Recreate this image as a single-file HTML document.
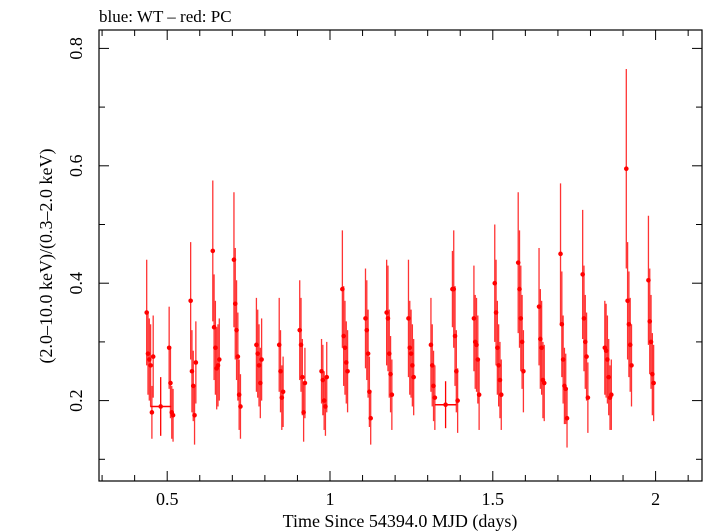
<!DOCTYPE html>
<html><head><meta charset="utf-8"><style>
body{margin:0;background:#fff}
svg{display:block;font-family:"Liberation Serif",serif}
</style></head><body>
<svg id="chart" width="705" height="532" viewBox="0 0 705 532">
<text x="99" y="22" font-size="17">blue: WT – red: PC</text>
<rect x="99" y="30" width="603" height="451" fill="none" stroke="#000" stroke-width="1.2"/>
<g id="axes"></g>
<g id="marks"></g>
<text x="400" y="527" font-size="18" text-anchor="middle">Time Since 54394.0 MJD (days)</text>
<text transform="translate(52,256) rotate(-90)" font-size="18" text-anchor="middle">(2.0–10.0 keV)/(0.3–2.0 keV)</text>
</svg>
<script>
const clusterTimes=[0.447,0.512,0.58,0.65,0.715,0.782,0.85,0.915,0.982,1.046,1.117,1.182,1.249,1.316,1.384,1.45,1.516,1.586,1.65,1.718,1.784,1.854,1.918,1.986];
const clusterValues=[
[0.35,0.28,0.27,0.26,0.18,0.275],[0.29,0.23,0.18,0.175],[0.37,0.25,0.225,0.175,0.265],
[0.455,0.325,0.29,0.255,0.26,0.27],[0.44,0.365,0.32,0.275,0.21,0.19],[0.295,0.28,0.26,0.23,0.27],
[0.295,0.25,0.205,0.215],[0.32,0.295,0.24,0.18,0.23],[0.25,0.235,0.2,0.19,0.24],
[0.39,0.31,0.29,0.265,0.25],[0.34,0.32,0.28,0.215,0.17],[0.35,0.34,0.28,0.245,0.21],
[0.34,0.29,0.28,0.26,0.24],[0.295,0.26,0.225,0.205],[0.39,0.39,0.31,0.25,0.2],
[0.34,0.3,0.295,0.27,0.21],[0.4,0.35,0.29,0.26,0.235,0.21],[0.435,0.39,0.34,0.3,0.25],
[0.36,0.305,0.29,0.235,0.23],[0.45,0.33,0.27,0.225,0.22,0.17],[0.415,0.34,0.3,0.275,0.205],
[0.29,0.285,0.27,0.24,0.205,0.21],[0.595,0.37,0.33,0.295,0.26],[0.405,0.335,0.3,0.245,0.23]];
const clusterErrors=[
[0.09,0.07,0.07,0.07,0.045,0.07],[0.07,0.06,0.045,0.045],[0.1,0.07,0.06,0.05,0.07],
[0.12,0.09,0.08,0.07,0.07,0.07],[0.115,0.095,0.085,0.075,0.06,0.055],[0.08,0.075,0.07,0.06,0.07],
[0.08,0.07,0.055,0.06],[0.085,0.08,0.065,0.05,0.06],[0.055,0.06,0.05,0.05,0.06],
[0.1,0.085,0.08,0.07,0.07],[0.085,0.085,0.075,0.06,0.045],[0.09,0.09,0.075,0.065,0.06],
[0.1,0.08,0.075,0.07,0.065],[0.08,0.07,0.06,0.055],[0.065,0.1,0.085,0.07,0.055],
[0.09,0.08,0.08,0.075,0.06],[0.1,0.09,0.08,0.07,0.065,0.06],[0.12,0.1,0.09,0.08,0.07],
[0.1,0.085,0.08,0.065,0.065],[0.12,0.09,0.075,0.065,0.06,0.05],[0.11,0.09,0.08,0.075,0.06],
[0.08,0.08,0.075,0.065,0.055,0.06],[0.17,0.1,0.09,0.08,0.07],[0.11,0.09,0.08,0.07,0.065]];
const binnedTimes=[0.48,1.355];
const binnedValues=[0.19,0.193];
const binnedHalfWidths=[0.032,0.033];
const binnedErrors=[0.05,0.04];
const xTicks=[0.5,1,1.5,2];
const xTickLabels=["0.5","1","1.5","2"];
const yTicks=[0.2,0.4,0.6,0.8];
const yTickLabels=["0.2","0.4","0.6","0.8"];

const NS="http://www.w3.org/2000/svg";
const X=v=>4.4+325.6*v;
const Y=v=>518-587*v;
function mk(tag,attrs,parent){const e=document.createElementNS(NS,tag);for(const k in attrs)e.setAttribute(k,attrs[k]);parent.appendChild(e);return e;}
const axes=document.getElementById('axes'),marks=document.getElementById('marks');
for(let t=3;t<=21;t++){const v=t/10,x=X(v),maj=(t%5===0);
 const a=mk('line',{x1:x,x2:x,y1:481,y2:481-(maj?10:6),stroke:'#000'},axes);
 
 const b=mk('line',{x1:x,x2:x,y1:30,y2:30+(maj?10:6),stroke:'#000'},axes);
 }
for(let t=1;t<=8;t++){const v=t/10,y=Y(v),maj=(t%2===0);
 const a=mk('line',{x1:99,x2:99+(maj?10:6),y1:y,y2:y,stroke:'#000'},axes);
 
 const b=mk('line',{x1:702,x2:702-(maj?10:6),y1:y,y2:y,stroke:'#000'},axes);
 }
xTicks.forEach((v,i)=>{const t=mk('text',{x:X(v),y:505,'font-size':18,'text-anchor':'middle'},axes);t.textContent=xTickLabels[i];
 });
yTicks.forEach((v,i)=>{const t=mk('text',{transform:`translate(82,${Y(v)}) rotate(-90)`,'font-size':18,'text-anchor':'middle'},axes);t.textContent=yTickLabels[i];
 });
clusterTimes.forEach((t,c)=>{const vals=clusterValues[c],n=vals.length;
 vals.forEach((v,i)=>{const x=X(t)+(i-(n-1)/2)*1.3,e=clusterErrors[c][i];
  const l=mk('line',{x1:x,x2:x,y1:Y(v+e),y2:Y(v-e),stroke:'#f00','stroke-width':1.3,'stroke-opacity':0.8},marks);
  
  const p=mk('circle',{cx:x,cy:Y(v),r:2.3,fill:'#f00'},marks);
  });});
binnedTimes.forEach((t,i)=>{const v=binnedValues[i],h=binnedHalfWidths[i],e=binnedErrors[i];
 const l=mk('line',{x1:X(t-h),x2:X(t+h),y1:Y(v),y2:Y(v),stroke:'#f00','stroke-width':1.5},marks);
 
 const l2=mk('line',{x1:X(t),x2:X(t),y1:Y(v+e),y2:Y(v-e),stroke:'#f00','stroke-width':1.3},marks);
 
 const p=mk('circle',{cx:X(t),cy:Y(v),r:2.3,fill:'#f00'},marks);
 });
</script>
</body></html>
